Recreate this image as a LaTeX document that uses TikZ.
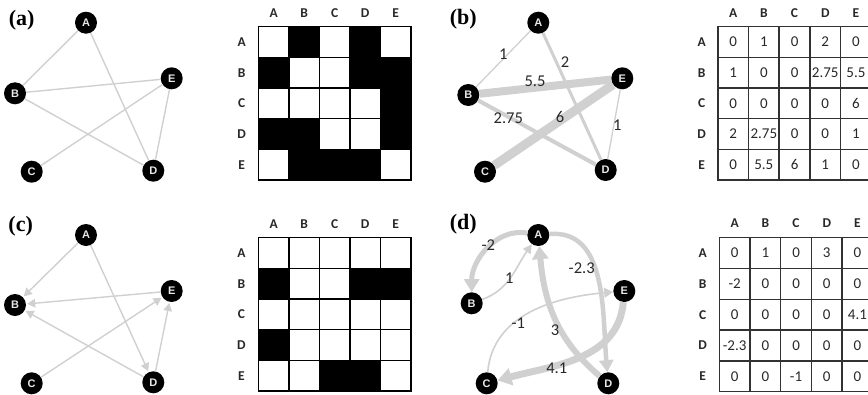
\documentclass[tikz,border=0pt]{standalone}
\usepackage{fontspec}
\setmainfont{Carlito}
\newfontfamily\panelfont{Liberation Serif}
\newfontfamily\nodefont{Liberation Sans}
\usetikzlibrary{arrows.meta}
\definecolor{edgegray}{RGB}{208,208,208}
\definecolor{labtext}{RGB}{40,40,40}
\definecolor{nodetext}{RGB}{232,232,232}
\definecolor{gridgray}{RGB}{50,50,50}
\begin{document}
\begin{tikzpicture}[x=1pt,y=1pt,
  gnode/.style={circle,fill=black,minimum size=22pt,inner sep=0pt,text=nodetext,font=\nodefont\bfseries\fontsize{11}{11}\selectfont},
  edgeline/.style={draw=edgegray,line width=1.4pt},
  arredge/.style={draw=edgegray,line width=1.4pt,-{Triangle[length=8pt,width=8.5pt]},shorten >=1pt},
  dedge/.style={draw=edgegray},
  elab/.style={text=labtext,font=\fontsize{16.5}{16.5}\selectfont,inner sep=0pt},
  panel/.style={font=\panelfont\bfseries\fontsize{22}{22}\selectfont,inner sep=0pt},
  hdr/.style={text=labtext,font=\bfseries\fontsize{13.5}{13.5}\selectfont,inner sep=0pt},
  bcell/.style={draw=black,line width=1.2pt,inner sep=0pt,anchor=center},
  vcell/.style={draw=gridgray,line width=1.5pt,inner sep=0pt,anchor=center,text=labtext,font=\fontsize{15}{15}\selectfont}
]
\useasboundingbox (0,0) rectangle (868,-394);

% ---------------- panel labels
\node[panel] (pa) at (21.7,-20.7) {(a)};
\node[panel] (pb) at (463.3,-19.3) {(b)};
\node[panel] (pc) at (20.7,-226.7) {(c)};
\node[panel] (pd) at (463.3,-224.3) {(d)};

% ---------------- graph (a)
\node[gnode] (aA) at (86,-22.7) {A};
\node[gnode] (aB) at (15,-93.3) {B};
\node[gnode] (aE) at (171.7,-78.3) {E};
\node[gnode] (aC) at (31.7,-171.7) {C};
\node[gnode] (aD) at (153.3,-170.7) {D};
\draw[edgeline] (aA) -- (aB);
\draw[edgeline] (aA) -- (aD);
\draw[edgeline] (aB) -- (aE);
\draw[edgeline] (aB) -- (aD);
\draw[edgeline] (aC) -- (aE);
\draw[edgeline] (aE) -- (aD);

% ---------------- matrix (a)
\foreach \row [count=\r] in {{0,1,0,1,0},{1,0,0,1,1},{0,0,0,0,1},{1,1,0,0,1},{0,1,1,1,0}}{
  \foreach \v [count=\c] in \row {
    \node[bcell,minimum width=30.5pt,minimum height=30.66pt,fill=black!\v00] (ma-\r-\c) at ({258.4+(\c-0.5)*30.5},{-26.7-(\r-0.5)*30.66}) {};
  }
}
\foreach \l [count=\c] in {A,B,C,D,E}{
  \node[hdr] (ha-c\c) at ({258.4+(\c-0.5)*30.5},-13) {\l};
  \node[hdr] (ha-r\c) at (241.7,{-26.7-(\c-0.5)*30.66}) {\l};
}

% ---------------- graph (b)
\node[gnode] (bA) at (538.3,-22.7) {A};
\node[gnode] (bB) at (468.3,-95) {B};
\node[gnode] (bE) at (622.3,-78.3) {E};
\node[gnode] (bC) at (485,-171.7) {C};
\node[gnode] (bD) at (605.7,-170) {D};
\draw[dedge,line width=1.3pt] (bA) -- (bB);
\draw[dedge,line width=3pt] (bA) -- (bD);
\draw[dedge,line width=8pt] (bB) -- (bE);
\draw[dedge,line width=4pt] (bB) -- (bD);
\draw[dedge,line width=9pt] (bC) -- (bE);
\draw[dedge,line width=1.3pt] (bE) -- (bD);
\node[elab] (lb1) at (503.3,-54) {1};
\node[elab] (lb2) at (565,-61.7) {2};
\node[elab] (lb3) at (535,-81.7) {5.5};
\node[elab] (lb4) at (508.3,-118.3) {2.75};
\node[elab] (lb5) at (560,-116.7) {6};
\node[elab] (lb6) at (617.3,-125) {1};

% ---------------- matrix (b)
\foreach \row [count=\r] in {{0,1,0,2,0},{1,0,0,2.75,5.5},{0,0,0,0,6},{2,2.75,0,0,1},{0,5.5,6,1,0}}{
  \foreach \v [count=\c] in \row {
    \node[vcell,minimum width=30.7pt,minimum height=30.66pt] (mb-\r-\c) at ({717.8+(\c-0.5)*30.7},{-26.7-(\r-0.5)*30.66}) {\v};
  }
}
\foreach \l [count=\c] in {A,B,C,D,E}{
  \node[hdr] (hb-c\c) at ({717.8+(\c-0.5)*30.7},-13) {\l};
  \node[hdr] (hb-r\c) at (701.7,{-26.7-(\c-0.5)*30.66}) {\l};
}

% ---------------- graph (c)
\node[gnode] (cA) at (86,-235) {A};
\node[gnode] (cB) at (15,-305) {B};
\node[gnode] (cE) at (171.7,-291) {E};
\node[gnode] (cC) at (31.7,-383.3) {C};
\node[gnode] (cD) at (153.3,-382.3) {D};
\draw[arredge] (cA) -- (cB);
\draw[arredge] (cA) -- (cD);
\draw[arredge] (cE) -- (cB);
\draw[arredge] (cD) -- (cB);
\draw[arredge] (cC) -- (cE);
\draw[arredge] (cD) -- (cE);

% ---------------- matrix (c)
\foreach \row [count=\r] in {{0,0,0,0,0},{1,0,0,1,1},{0,0,0,0,0},{1,0,0,0,0},{0,0,1,1,0}}{
  \foreach \v [count=\c] in \row {
    \node[bcell,minimum width=30.5pt,minimum height=30.66pt,fill=black!\v00] (mc-\r-\c) at ({258.4+(\c-0.5)*30.5},{-237.7-(\r-0.5)*30.66}) {};
  }
}
\foreach \l [count=\c] in {A,B,C,D,E}{
  \node[hdr] (hc-c\c) at ({258.4+(\c-0.5)*30.5},-224.3) {\l};
  \node[hdr] (hc-r\c) at (241.5,{-237.7-(\c-0.5)*30.66}) {\l};
}

% ---------------- graph (d)
\node[gnode] (dA) at (538.3,-235) {A};
\node[gnode] (dB) at (471.7,-303.3) {B};
\node[gnode] (dE) at (624.3,-291) {E};
\node[gnode] (dC) at (486.7,-383.3) {C};
\node[gnode] (dD) at (608.3,-383.3) {D};
\draw[dedge,line width=5pt,-{Triangle[length=13pt,width=15pt]}] (dA) to[out=170,in=90] (dB);
\draw[dedge,line width=1.6pt,-{Triangle[length=9pt,width=9pt]}] (dB) to[out=20,in=-125] (dA);
\draw[dedge,line width=4.5pt,-{Triangle[length=12pt,width=14pt]}] (dA) to[out=5,in=95] (dD);
\draw[dedge,line width=6pt,-{Triangle[length=13pt,width=16pt]}] (dD) to[out=140,in=-85] (dA);
\draw[dedge,line width=1.6pt,-{Triangle[length=9pt,width=10pt]}] (dC) to[out=85,in=185] (dE);
\draw[dedge,line width=7pt,-{Triangle[length=14pt,width=17pt]}] (dE) to[out=-95,in=15] (dC);
\node[elab] (ld1) at (488.3,-245) {-2};
\node[elab] (ld2) at (509.3,-278.3) {1};
\node[elab] (ld3) at (581.7,-268.3) {-2.3};
\node[elab] (ld4) at (555,-330) {3};
\node[elab] (ld5) at (518.3,-323.3) {-1};
\node[elab] (ld6) at (556.7,-368.3) {4.1};

% ---------------- matrix (d)
\foreach \row [count=\r] in {{0,1,0,3,0},{-2,0,0,0,0},{0,0,0,0,4.1},{-2.3,0,0,0,0},{0,0,-1,0,0}}{
  \foreach \v [count=\c] in \row {
    \node[vcell,minimum width=30.7pt,minimum height=30.8pt] (md-\r-\c) at ({719.3+(\c-0.5)*30.7},{-237.7-(\r-0.5)*30.8}) {\v};
  }
}
\foreach \l [count=\c] in {A,B,C,D,E}{
  \node[hdr] (hd-c\c) at ({719.3+(\c-0.5)*30.7},-223.3) {\l};
  \node[hdr] (hd-r\c) at (702.7,{-237.7-(\c-0.5)*30.8}) {\l};
}
\end{tikzpicture}
\end{document}
